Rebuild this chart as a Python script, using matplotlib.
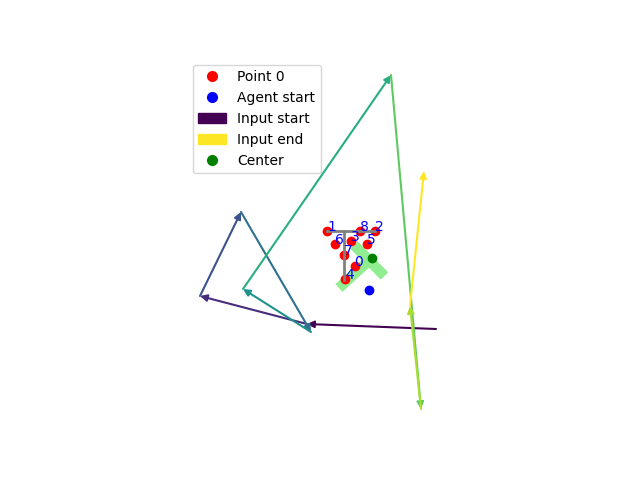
import numpy as np
import matplotlib
matplotlib.use("Agg")
import matplotlib.pyplot as plt
import matplotlib.patches as mpatches
from matplotlib.lines import Line2D

# Puntos clave (coordenadas de imagen, y hacia abajo)
kp_x = [354.5, 327.3, 374.5, 351.3, 345.3, 366.8, 335.3, 344.3, 360.3]
kp_y = [265.8, 231.2, 231.2, 241.3, 279.4, 243.8, 243.8, 255.3, 231.0]

agent_start = (369.0, 290.0)
center = (372.0, 257.8)

# Trayectoria de entrada
path_x = [436, 307, 200, 241, 311, 243, 391, 421, 410, 424]
path_y = [329, 324, 296, 212, 332, 289, 75, 409, 306, 171]

# Forma T objetivo (gris)
goal_bar = [(327.0, 230.8), (375.0, 230.8)]
goal_stem = [(343.8, 230.8), (343.8, 280.0)]

# Bloque T (verde)
block_bar = [(354.0, 245.0), (384.5, 276.0)]
block_stem = [(369.0, 260.5), (339.0, 288.0)]
block_w = 10.5


def rect_from_segment(p, q, w):
    p = np.array(p)
    q = np.array(q)
    d = q - p
    n = np.array([-d[1], d[0]]) / np.linalg.norm(d) * w / 2
    return np.array([p + n, q + n, q - n, p - n])


fig, ax = plt.subplots(figsize=(6.4, 4.8), dpi=100)

for seg in (block_bar, block_stem):
    ax.add_patch(mpatches.Polygon(rect_from_segment(seg[0], seg[1], block_w),
                                  closed=True, color='lightgreen', lw=0))

ax.scatter(kp_x, kp_y, color='red')
for i, (x, y) in enumerate(zip(kp_x, kp_y)):
    ax.text(x, y, str(i), color='blue')

for seg in (goal_bar, goal_stem):
    ax.plot([seg[0][0], seg[1][0]], [seg[0][1], seg[1][1]], color='gray', lw=2)

ax.scatter(*agent_start, color='blue')
ax.scatter(*center, color='green')

n_seg = len(path_x) - 1
colors = plt.cm.viridis(np.linspace(0, 1, n_seg))
for i in range(n_seg):
    ax.annotate('', xy=(path_x[i + 1], path_y[i + 1]), xytext=(path_x[i], path_y[i]),
                arrowprops=dict(arrowstyle='-|>', color=colors[i], lw=1.5,
                                mutation_scale=10, shrinkA=0, shrinkB=0))

ax.set_xlim(186, 470)
ax.set_ylim(427.2, 57.6)
ax.set_aspect('equal')
ax.axis('off')

handles = [
    Line2D([], [], marker='o', ls='', color='red', markersize=7),
    Line2D([], [], marker='o', ls='', color='blue', markersize=7),
    mpatches.Patch(color=colors[0]),
    mpatches.Patch(color=colors[-1]),
    Line2D([], [], marker='o', ls='', color='green', markersize=7),
]
ax.legend(handles, ['Point 0', 'Agent start', 'Input start', 'Input end', 'Center'],
          loc='upper left')

plt.savefig('out.png')
